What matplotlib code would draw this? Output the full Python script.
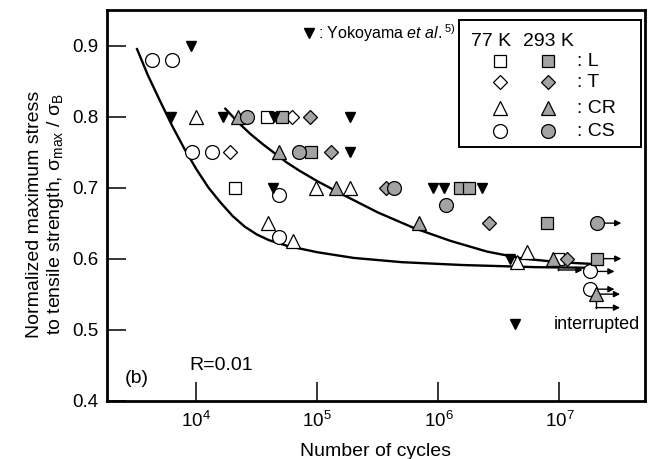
import numpy as np
import matplotlib
matplotlib.use("Agg")
import matplotlib.pyplot as plt
from matplotlib.patches import Rectangle

plt.rcParams['font.family'] = ['Liberation Sans', 'DejaVu Sans']
plt.rcParams['mathtext.fontset'] = 'custom'
plt.rcParams['mathtext.rm'] = 'Liberation Sans'
plt.rcParams['mathtext.it'] = 'Liberation Sans:italic'
plt.rcParams['mathtext.bf'] = 'Liberation Sans:bold'
plt.rcParams['mathtext.default'] = 'regular'

# ---- data: (cycles, normalized max stress) ----
# 77 K (open symbols)
L77_n = [2.1e4, 3.8e4, 9.8e6]
L77_s = [0.70, 0.80, 0.60]
T77_n = [1.9e4, 6.2e4]
T77_s = [0.75, 0.80]
CR77_n = [1.0e4, 3.9e4, 6.3e4, 9.7e4, 1.86e5, 4.5e6, 5.4e6]
CR77_s = [0.80, 0.65, 0.625, 0.70, 0.70, 0.595, 0.61]
CS77_n = [4.3e3, 6.3e3, 9.2e3, 1.34e4, 4.8e4, 4.8e4, 1.8e7, 1.8e7]
CS77_s = [0.88, 0.88, 0.75, 0.75, 0.69, 0.63, 0.582, 0.557]

# 293 K (grey symbols)
L293_n = [5.1e4, 8.9e4, 1.5e6, 1.8e6, 7.9e6, 2.05e7]
L293_s = [0.80, 0.75, 0.70, 0.70, 0.65, 0.60]
T293_n = [8.7e4, 1.3e5, 3.7e5, 2.6e6, 1.15e7]
T293_s = [0.80, 0.75, 0.70, 0.65, 0.60]
CR293_n = [2.2e4, 4.8e4, 1.43e5, 6.9e5, 8.9e6, 2.0e7]
CR293_s = [0.80, 0.75, 0.70, 0.65, 0.60, 0.55]
CS293_n = [2.6e4, 7.1e4, 4.3e5, 1.15e6, 2.05e7]
CS293_s = [0.80, 0.75, 0.70, 0.675, 0.65]

# Yokoyama et al.
yoko_n = [9.1e3, 6.2e3, 1.65e4, 4.4e4, 1.87e5, 1.87e5, 4.3e4, 9.0e5,
          1.12e6, 2.3e6, 3.9e6, 4.3e6]
yoko_s = [0.90, 0.80, 0.80, 0.80, 0.80, 0.75, 0.70, 0.70,
          0.70, 0.70, 0.60, 0.508]

# run-outs (cycles, stress, drop of the arrow below the symbol)
runout_n = [2.05e7, 2.05e7, 9.8e6, 1.8e7, 1.8e7, 2.0e7, 2.0e7]
runout_s = [0.65, 0.60, 0.60, 0.582, 0.557, 0.55, 0.55]
runout_drop = [0.0, 0.0, 0.016, 0.0, 0.0, 0.0, 0.019]

# S-N curves
curve77_logn = [3.51, 3.60, 3.70, 3.80, 3.90, 4.00, 4.10, 4.20, 4.30, 4.40,
                4.50, 4.60, 4.75, 5.00, 5.30, 5.70, 6.20, 6.80, 7.30]
curve77_s = [0.895, 0.858, 0.822, 0.787, 0.755, 0.726, 0.700, 0.679, 0.660,
             0.645, 0.634, 0.626, 0.618, 0.609, 0.601, 0.595, 0.591, 0.588,
             0.587]
curve293_logn = [4.24, 4.35, 4.45, 4.55, 4.65, 4.75, 4.85, 5.00, 5.20, 5.50,
                 5.80, 6.10, 6.40, 6.70, 7.00, 7.33]
curve293_s = [0.811, 0.791, 0.775, 0.761, 0.748, 0.735, 0.724, 0.709, 0.691,
              0.665, 0.643, 0.625, 0.610, 0.600, 0.595, 0.592]

grey = '#a3a3a3'

fig = plt.figure(figsize=(6.53, 4.59), dpi=100)
ax = fig.add_axes([0.1634, 0.1270, 0.8244, 0.8512])

ax.plot(10 ** np.array(curve77_logn), curve77_s, color='k', lw=1.7, zorder=2)
ax.plot(10 ** np.array(curve293_logn), curve293_s, color='k', lw=1.7, zorder=2)

# run-out arrows
for n, s, d in zip(runout_n, runout_s, runout_drop):
    tip = n * 10 ** 0.2
    if d > 0:
        ax.plot([n, n], [s, s - d], color='k', lw=1, zorder=2.5)
    ax.annotate('', xy=(tip, s - d), xytext=(n, s - d),
                arrowprops=dict(arrowstyle='-|>', color='k', lw=1,
                                mutation_scale=9, shrinkA=0, shrinkB=0),
                zorder=2.5)

mk = dict(ls='none', mec='k', mew=0.9, zorder=3)
ax.plot(L77_n, L77_s, marker='s', ms=9, mfc='white', **mk)
ax.plot(T77_n, T77_s, marker='D', ms=7.5, mfc='white', **mk)
ax.plot(CR77_n, CR77_s, marker='^', ms=10, mfc='white', **mk)
ax.plot(CS77_n, CS77_s, marker='o', ms=10, mfc='white', **mk)
ax.plot(L293_n, L293_s, marker='s', ms=9, mfc=grey, **mk)
ax.plot(T293_n, T293_s, marker='D', ms=7.5, mfc=grey, **mk)
ax.plot(CR293_n, CR293_s, marker='^', ms=10, mfc=grey, **mk)
ax.plot(CS293_n, CS293_s, marker='o', ms=10, mfc=grey, **mk)
ax.plot(yoko_n, yoko_s, marker='v', ms=7.5, color='k', ls='none', zorder=3.5)

ax.set_xscale('log')
ax.set_xlim(1817, 5.1e7)
ax.set_ylim(0.4, 0.95)
ax.set_xticks([1e4, 1e5, 1e6, 1e7])
ax.set_yticks([0.4, 0.5, 0.6, 0.7, 0.8, 0.9])
ax.set_yticklabels(['0.4', '0.5', '0.6', '0.7', '0.8', '0.9'])
ax.minorticks_off()
ax.tick_params(direction='in', length=14, width=1.1, labelsize=13.5,
               top=False, right=False)
ax.tick_params(axis='x', pad=7)
ax.tick_params(axis='y', pad=6)
for sp in ax.spines.values():
    sp.set_linewidth(2)

ax.set_xlabel('Number of cycles', fontsize=14, labelpad=9)
ax.set_ylabel('Normalized maximum stress\n'
              r'to tensile strength, $\sigma_{\rm max}$ / $\sigma_{\rm B}$',
              fontsize=14, linespacing=1.1, va='center')
ax.yaxis.set_label_coords(-0.113, 0.478)

# legend box
ax.add_patch(Rectangle((0.6545, 0.6493), 0.3381, 0.3251, transform=ax.transAxes,
                       fill=False, ec='k', lw=1.4, zorder=4))
ax.text(0.7136, 0.9205, '77 K', transform=ax.transAxes, fontsize=14,
        ha='center', va='center')
ax.text(0.8205, 0.9205, '293 K', transform=ax.transAxes, fontsize=14,
        ha='center', va='center')
rows_y = [0.8694, 0.8157, 0.7491, 0.6902]
for y, m, ms, lab in zip(rows_y, ['s', 'D', '^', 'o'], [9, 7.5, 10, 10],
                         [': L', ': T', ': CR', ': CS']):
    ax.plot([0.7305], [y], marker=m, ms=ms, mfc='white', mec='k', mew=0.9,
            transform=ax.transAxes, zorder=4)
    ax.plot([0.8205], [y], marker=m, ms=ms, mfc=grey, mec='k', mew=0.9,
            transform=ax.transAxes, zorder=4)
    ax.text(0.8731, y, lab, transform=ax.transAxes, fontsize=14,
            ha='left', va='center')

ax.plot([0.3759], [0.941], marker='v', ms=7.5, color='k',
        transform=ax.transAxes)
ax.text(0.3923, 0.941, r': Yokoyama $\mathit{et\ al.}$$^{5)}$',
        transform=ax.transAxes, fontsize=11.5, ha='left', va='center')

ax.text(0.831, 0.196, 'interrupted', transform=ax.transAxes, fontsize=13,
        ha='left', va='center')
ax.text(8.8e3, 0.443, 'R=0.01', fontsize=14, ha='left', va='baseline')
ax.text(0.034, 0.058, '(b)', transform=ax.transAxes, fontsize=14,
        ha='left', va='center')

fig.savefig('out.png', dpi=100)
